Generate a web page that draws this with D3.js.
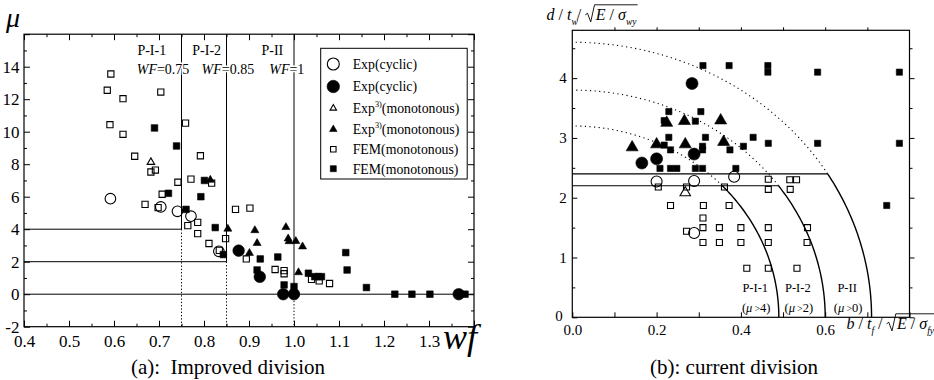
<!DOCTYPE html>
<html>
<head>
<meta charset="utf-8">
<script src="https://cdn.jsdelivr.net/npm/d3@7"></script>
<style>
  body { margin: 0; background: #fff; }
  svg { display: block; }
  text { font-family: "Liberation Serif", "Times New Roman", serif; fill: #000; white-space: pre; }
</style>
</head>
<body>
<svg id="chart" width="934" height="380"></svg>
<script>
// ---- panel (a): mu vs wf ----
const aXTicks = [0.4, 0.5, 0.6, 0.7, 0.8, 0.9, 1.0, 1.1, 1.2, 1.3, 1.4];
const aYTicks = [-2, 0, 2, 4, 6, 8, 10, 12, 14, 16];

const aExpCyclicOpen = [[0.592, 5.88], [0.704, 5.37], [0.741, 5.10], [0.771, 4.80], [0.833, 2.64]];
const aExpCyclicFilled = [[0.877, 2.68], [0.924, 1.07], [0.976, 0], [1.0, 0], [1.366, 0]];
const aExpMonoOpen = [[0.682, 8.14]];
const aExpMonoFilled = [[0.814, 7.05], [0.853, 4.04], [0.913, 3.95], [0.918, 3.16], [0.901, 2.55],
  [0.982, 4.14], [0.987, 3.44], [0.989, 3.27], [1.004, 3.28], [1.019, 2.95], [1.010, 1.36]];
const aFemOpen = [[0.593, 13.55], [0.585, 12.55], [0.62, 12.03], [0.704, 12.44], [0.591, 10.43],
  [0.62, 9.84], [0.646, 8.49], [0.759, 10.53], [0.792, 8.52], [0.682, 7.52], [0.692, 7.64],
  [0.742, 6.89], [0.771, 7.08], [0.817, 6.83], [0.707, 6.15], [0.669, 5.53], [0.698, 5.33],
  [0.764, 4.22], [0.786, 4.42], [0.786, 3.73], [0.811, 3.12], [0.848, 3.42], [0.834, 2.70],
  [0.870, 5.22], [0.902, 5.30], [0.894, 2.17], [0.958, 1.52], [0.978, 1.45], [0.978, 1.26],
  [1.039, 0.91], [1.056, 0.82], [1.079, 0.66]];
const aFemFilled = [[0.690, 10.23], [0.739, 9.12], [0.801, 7.0], [0.721, 6.21], [0.793, 6.0],
  [0.760, 5.22], [0.825, 4.10], [0.843, 2.44], [0.925, 2.17], [0.964, 2.29], [0.918, 1.49],
  [0.978, 0.57], [1.0, 0.47], [1.032, 1.29], [1.046, 1.08], [1.054, 1.08], [1.061, 1.08],
  [1.115, 2.56], [1.118, 1.49], [1.161, 0.41], [1.224, 0], [1.262, 0], [1.302, 0], [1.38, 0]];

// division lines: WF limit and the mu limit that goes with it
const aBands = [
  { name: "P-I-1", wf: 0.75, mu: 4, wfLabel: "0.75" },
  { name: "P-I-2", wf: 0.85, mu: 2, wfLabel: "0.85" },
  { name: "P-II", wf: 1.0, mu: 0, wfLabel: "1" }
];

// ---- panel (b): web vs flange slenderness ----
const bXTicks = [0, 0.2, 0.4, 0.6, 0.8];
const bYTicks = [0, 1, 2, 3, 4];

const bExpCyclicOpen = [[0.2, 2.27], [0.289, 2.28], [0.384, 2.35], [0.289, 1.41]];
const bExpCyclicFilled = [[0.284, 3.91], [0.165, 2.58], [0.2, 2.65], [0.289, 2.73]];
const bExpMonoOpen = [[0.268, 2.09]];
const bExpMonoFilled = [[0.224, 3.26], [0.266, 3.29], [0.352, 3.3], [0.142, 2.85], [0.2, 2.9],
  [0.268, 2.9], [0.359, 2.94]];
const bFemOpen = [[0.204, 2.18], [0.271, 2.18], [0.361, 2.18], [0.465, 2.31], [0.465, 2.14],
  [0.516, 2.30], [0.532, 2.30], [0.517, 2.14], [0.233, 1.87], [0.311, 1.87], [0.372, 1.87],
  [0.31, 1.66], [0.271, 1.44], [0.31, 1.5], [0.349, 1.5], [0.4, 1.5], [0.465, 1.5], [0.558, 1.5],
  [0.31, 1.25], [0.349, 1.25], [0.4, 1.25], [0.465, 1.25], [0.557, 1.25],
  [0.414, 0.82], [0.465, 0.82], [0.533, 0.82]];
const bFemFilled = [[0.310, 4.21], [0.372, 4.21], [0.464, 4.21], [0.464, 4.10], [0.582, 4.10],
  [0.776, 4.10], [0.229, 3.44], [0.305, 3.44], [0.218, 3.29], [0.292, 3.28], [0.229, 3.01],
  [0.316, 3.01], [0.429, 3.01], [0.465, 2.91], [0.582, 2.91], [0.776, 2.91], [0.218, 2.88],
  [0.233, 2.8], [0.309, 2.86], [0.309, 2.8], [0.374, 2.8], [0.406, 2.86], [0.208, 2.49],
  [0.233, 2.49], [0.248, 2.49], [0.292, 2.49], [0.309, 2.49], [0.388, 2.49], [0.746, 1.87]];

// elliptic limit curves (x/a)^2 + (y/b)^2 = 1, solid below "cut", dotted above
const bCurves = [
  { name: "P-I-1", note: "4", a: 0.49, b: 3.2, cut: 2.2 },
  { name: "P-I-2", note: "2", a: 0.6, b: 3.8, cut: 2.2 },
  { name: "P-II", note: "0", a: 0.71, b: 4.6, cut: 2.4 }
];

const legendItems = [
  { shape: "circle", filled: false, label: "Exp(cyclic)" },
  { shape: "circle", filled: true, label: "Exp(cyclic)" },
  { shape: "triangle", filled: false, label: "Exp", sup: "3)", tail: "(monotonous)" },
  { shape: "triangle", filled: true, label: "Exp", sup: "3)", tail: "(monotonous)" },
  { shape: "square", filled: false, label: "FEM(monotonous)" },
  { shape: "square", filled: true, label: "FEM(monotonous)" }
];

const SERIF = '"Liberation Serif", "Times New Roman", serif';
const svg = d3.select("#chart");

function markPath(shape, s) {
  if (shape === "circle") {
    const r = s / 2;
    return `M${-r},0A${r},${r} 0 1,0 ${r},0A${r},${r} 0 1,0 ${-r},0Z`;
  }
  if (shape === "square") {
    const h = s / 2;
    return `M${-h},${-h}H${h}V${h}H${-h}Z`;
  }
  const h = s * 0.866;
  return `M0,${-h * 0.62}L${s / 2},${h * 0.38}L${-s / 2},${h * 0.38}Z`;
}

function drawMarks(g, data, x, y, shape, size, filled) {
  g.append("g").selectAll("path").data(data).join("path")
    .attr("transform", d => `translate(${x(d[0])},${y(d[1])})`)
    .attr("d", markPath(shape, size))
    .attr("fill", filled ? "#000" : "none")
    .attr("stroke", "#000")
    .attr("stroke-width", filled ? 0.6 : 1.1);
}

// plain ticks, no domain path; the frame is drawn separately
function ticks(g, axis) {
  g.call(axis).call(s => s.select(".domain").remove());
  g.attr("font-family", null);
  g.selectAll(".tick line").attr("stroke", "#000");
}

function putPart(g, x, y0, size, p) {
  const fs = p.sub ? size * 0.6 : (p.sup ? size * 0.6 : size);
  const dy = p.sub ? size * 0.3 : (p.sup ? -size * 0.42 : 0);
  const t = g.append("text")
    .attr("x", x).attr("y", y0 + dy)
    .attr("font-size", fs)
    .attr("font-style", p.it ? "italic" : "normal")
    .style("font-family", SERIF)
    .text(p.t);
  return x + t.node().getComputedTextLength() + (p.gap || 0);
}

function mathLabel(g, x0, y0, size, parts) {
  let x = x0;
  parts.forEach(p => {
    if (p.sqrt) {
      const sx = x;
      const top = y0 - size * 0.95;
      x += size * 0.66;
      p.sqrt.forEach(q => { x = putPart(g, x, y0, size, q); });
      g.append("path")
        .attr("d", `M${sx},${y0 - size * 0.32}L${sx + size * 0.14},${y0 - size * 0.42}` +
          `L${sx + size * 0.34},${y0 + size * 0.12}L${sx + size * 0.58},${top}H${x + 1}`)
        .attr("fill", "none").attr("stroke", "#000").attr("stroke-width", 0.9);
    } else {
      x = putPart(g, x, y0, size, p);
    }
  });
  return x;
}

// ================= panel (a) =================
const xA = d3.scaleLinear().domain([0.4, 1.4]).range([24, 474]);
const yA = d3.scaleLinear().domain([-2, 16]).range([326.7, 34.2]);
const gA = svg.append("g");

const aMinorX = d3.range(0.45, 1.4, 0.1);
const aMinorY = d3.range(-1, 16, 2);

ticks(gA.append("g").attr("transform", `translate(0,${yA(-2)})`),
  d3.axisBottom(xA).tickValues(aXTicks).tickSize(-6).tickPadding(8)
    .tickFormat(d => d < 1.35 ? d3.format(".1f")(d) : ""));
ticks(gA.append("g").attr("transform", `translate(0,${yA(-2)})`),
  d3.axisBottom(xA).tickValues(aMinorX).tickSize(-3).tickFormat(""));
ticks(gA.append("g").attr("transform", `translate(0,${yA(16)})`),
  d3.axisTop(xA).tickValues(aXTicks).tickSize(-6).tickFormat(""));
ticks(gA.append("g").attr("transform", `translate(0,${yA(16)})`),
  d3.axisTop(xA).tickValues(aMinorX).tickSize(-3).tickFormat(""));
ticks(gA.append("g").attr("transform", `translate(${xA(0.4)},0)`),
  d3.axisLeft(yA).tickValues(aYTicks).tickSize(-6).tickPadding(4.5)
    .tickFormat(d => d < 15 ? d : ""));
ticks(gA.append("g").attr("transform", `translate(${xA(0.4)},0)`),
  d3.axisLeft(yA).tickValues(aMinorY).tickSize(-3).tickFormat(""));
ticks(gA.append("g").attr("transform", `translate(${xA(1.4)},0)`),
  d3.axisRight(yA).tickValues(aYTicks).tickSize(-6).tickFormat(""));
ticks(gA.append("g").attr("transform", `translate(${xA(1.4)},0)`),
  d3.axisRight(yA).tickValues(aMinorY).tickSize(-3).tickFormat(""));
gA.selectAll(".tick text").attr("font-size", 17);

gA.append("rect")
  .attr("x", xA(0.4)).attr("y", yA(16))
  .attr("width", xA(1.4) - xA(0.4)).attr("height", yA(-2) - yA(16))
  .attr("fill", "none").attr("stroke", "#000").attr("stroke-width", 1.2);

// division lines
aBands.forEach((b, i) => {
  gA.append("line")
    .attr("x1", xA(b.wf)).attr("x2", xA(b.wf)).attr("y1", yA(16)).attr("y2", yA(b.mu))
    .attr("stroke", "#000").attr("stroke-width", 1);
  gA.append("line")
    .attr("x1", xA(b.wf)).attr("x2", xA(b.wf)).attr("y1", yA(b.mu)).attr("y2", yA(-2))
    .attr("stroke", "#000").attr("stroke-width", 1).attr("stroke-dasharray", "1.3,2");
  gA.append("line")
    .attr("x1", xA(0.4)).attr("x2", i === aBands.length - 1 ? xA(1.4) : xA(b.wf))
    .attr("y1", yA(b.mu)).attr("y2", yA(b.mu))
    .attr("stroke", "#000").attr("stroke-width", 1);
});

// band labels
const aNameX = [0.684, 0.806, 0.952];
const aWfX = [0.709, 0.853, 0.984];
aBands.forEach((b, i) => {
  gA.append("text").attr("x", xA(aNameX[i])).attr("y", 55)
    .attr("text-anchor", "middle").attr("font-size", 14).text(b.name);
  const t = gA.append("text").attr("x", xA(aWfX[i])).attr("y", 74)
    .attr("text-anchor", "middle").attr("font-size", 14)
    .attr("stroke", "#fff").attr("stroke-width", 3).attr("paint-order", "stroke");
  t.append("tspan").attr("font-style", "italic").text("WF");
  t.append("tspan").text("=" + b.wfLabel);
});

drawMarks(gA, aFemOpen, xA, yA, "square", 6.2, false);
drawMarks(gA, aFemFilled, xA, yA, "square", 6.6, true);
drawMarks(gA, aExpMonoOpen, xA, yA, "triangle", 7.5, false);
drawMarks(gA, aExpMonoFilled, xA, yA, "triangle", 8, true);
drawMarks(gA, aExpCyclicOpen, xA, yA, "circle", 10.6, false);
drawMarks(gA, aExpCyclicFilled, xA, yA, "circle", 11.6, true);

// legend
const lg = gA.append("g");
lg.append("rect").attr("x", 320.7).attr("y", 48.3).attr("width", 146.5).attr("height", 130.7)
  .attr("fill", "#fff").attr("stroke", "#000").attr("stroke-width", 1);
const legRowY = [64, 86.5, 108, 129, 149.3, 168.7];
const legSize = { circle: [12, 12.5], triangle: [6.5, 7.5], square: [5.5, 6] };
legendItems.forEach((it, i) => {
  const cy = legRowY[i];
  lg.append("path")
    .attr("transform", `translate(333.3,${cy})`)
    .attr("d", markPath(it.shape, legSize[it.shape][it.filled ? 1 : 0]))
    .attr("fill", it.filled ? "#000" : "none")
    .attr("stroke", "#000").attr("stroke-width", it.filled ? 0.6 : 1.1);
  const parts = [{ t: it.label }];
  if (it.sup) parts.push({ t: it.sup, sup: true }, { t: it.tail });
  mathLabel(lg, 352.7, cy + 4.8, 13.8, parts);
});

// axis titles
gA.append("text").attr("x", 6).attr("y", 27).attr("font-size", 28)
  .attr("font-style", "italic").text("\u03bc");
gA.append("text").attr("x", 443).attr("y", 349)
  .attr("font-size", 36).attr("font-style", "italic").text("wf");
gA.append("text").attr("x", 228).attr("y", 374).attr("text-anchor", "middle")
  .attr("font-size", 21).text("(a):  Improved division");

// ================= panel (b) =================
const xB = d3.scaleLinear().domain([0, 0.8]).range([572.3, 909.5]);
const yB = d3.scaleLinear().domain([0, 4.8]).range([317.3, 30.3]);
const gB = svg.append("g");

const bMinorX = d3.range(0.1, 0.8, 0.2);
const bMinorY = d3.range(0.5, 4.8, 1);
const bTopX = d3.range(0.1, 0.8, 0.1);

ticks(gB.append("g").attr("transform", `translate(0,${yB(0)})`),
  d3.axisBottom(xB).tickValues(bXTicks).tickSize(-5).tickPadding(7.5)
    .tickFormat(d => d < 0.7 ? d3.format(".1f")(d) : ""));
ticks(gB.append("g").attr("transform", `translate(0,${yB(0)})`),
  d3.axisBottom(xB).tickValues(bMinorX).tickSize(-5).tickFormat(""));
ticks(gB.append("g").attr("transform", `translate(0,${yB(4.8)})`),
  d3.axisTop(xB).tickValues(bTopX).tickSize(3).tickFormat(""));
ticks(gB.append("g").attr("transform", `translate(${xB(0)},0)`),
  d3.axisLeft(yB).tickValues(bYTicks).tickSize(-5).tickPadding(5.5).tickFormat(d3.format("d")));
ticks(gB.append("g").attr("transform", `translate(${xB(0)},0)`),
  d3.axisLeft(yB).tickValues(bMinorY).tickSize(-3).tickFormat(""));
ticks(gB.append("g").attr("transform", `translate(${xB(0.8)},0)`),
  d3.axisRight(yB).tickValues(bYTicks).tickSize(5).tickFormat(""));
ticks(gB.append("g").attr("transform", `translate(${xB(0.8)},0)`),
  d3.axisRight(yB).tickValues(bMinorY).tickSize(3).tickFormat(""));
gB.selectAll(".tick text").attr("font-size", 15);
// the corner "0" sits just left of "0.0"
gB.selectAll(".tick text").filter(function (d) { return d === 0 && this.getAttribute("x") !== null && +this.getAttribute("x") < 0; })
  .attr("x", -9.5).attr("dy", "0.2em");

gB.append("rect")
  .attr("x", xB(0)).attr("y", yB(4.8))
  .attr("width", xB(0.8) - xB(0)).attr("height", yB(0) - yB(4.8))
  .attr("fill", "none").attr("stroke", "#000").attr("stroke-width", 1.2);

// limit curves
const ell = c => t => [c.a * Math.cos(t), c.b * Math.sin(t)];
const lineB = d3.line().x(d => xB(d[0])).y(d => yB(d[1]));
bCurves.forEach(c => {
  const tc = Math.asin(c.cut / c.b);
  const solid = d3.range(0, 61).map(k => ell(c)(tc * k / 60));
  const dotted = d3.range(0, 61).map(k => ell(c)(tc + (Math.PI / 2 - tc) * k / 60));
  gB.append("path").attr("d", lineB(solid)).attr("fill", "none")
    .attr("stroke", "#000").attr("stroke-width", 1.4);
  gB.append("path").attr("d", lineB(dotted)).attr("fill", "none")
    .attr("stroke", "#000").attr("stroke-width", 1.1).attr("stroke-dasharray", "1.2,3.4");
});
// horizontal limits: the 2.2 line runs to the P-I-2 curve, the 2.4 line to the P-II curve
[bCurves[1], bCurves[2]].forEach(c => {
  const xe = c.a * Math.sqrt(1 - (c.cut / c.b) ** 2);
  gB.append("line").attr("x1", xB(0)).attr("x2", xB(xe))
    .attr("y1", yB(c.cut)).attr("y2", yB(c.cut))
    .attr("stroke", "#000").attr("stroke-width", 1.2);
});

drawMarks(gB, bFemOpen, xB, yB, "square", 6, false);
drawMarks(gB, bFemFilled, xB, yB, "square", 6.2, true);
drawMarks(gB, bExpMonoOpen, xB, yB, "triangle", 10.5, false);
drawMarks(gB, bExpMonoFilled, xB, yB, "triangle", 12, true);
drawMarks(gB, bExpCyclicOpen, xB, yB, "circle", 11, false);
drawMarks(gB, bExpCyclicFilled, xB, yB, "circle", 12, true);

// region labels
const bNameX = [0.434, 0.535, 0.652];
bCurves.forEach((c, i) => {
  gB.append("text").attr("x", xB(bNameX[i])).attr("y", 291.5)
    .attr("text-anchor", "middle").attr("font-size", 12.5).text(c.name);
  const t = gB.append("text").attr("x", xB(bNameX[i]) + 1).attr("y", 311.5)
    .attr("text-anchor", "middle").attr("font-size", 12.5);
  t.append("tspan").text("(");
  t.append("tspan").attr("font-style", "italic").text("\u03bc");
  t.append("tspan").attr("font-size", 9.5).text(" >");
  t.append("tspan").text(c.note + ")");
});

// axis titles
mathLabel(gB, 546.5, 20, 16, [
  { t: "d", it: true }, { t: " / " }, { t: "t", it: true }, { t: "w", it: true, sub: true, gap: -1 },
  { t: "/ " },
  { sqrt: [{ t: "E", it: true }, { t: " / " }, { t: "\u03c3", it: true }, { t: "wy", it: true, sub: true }] }
]);
mathLabel(gB, 846.5, 329, 16, [
  { t: "b", it: true }, { t: " / " }, { t: "t", it: true }, { t: "f", it: true, sub: true },
  { t: " / " },
  { sqrt: [{ t: "E", it: true }, { t: " / " }, { t: "\u03c3", it: true }, { t: "fy", it: true, sub: true }] }
]);
gB.append("text").attr("x", 734).attr("y", 374).attr("text-anchor", "middle")
  .attr("font-size", 21).text("(b): current division");

svg.selectAll("text").style("font-family", SERIF);
</script>
</body>
</html>
